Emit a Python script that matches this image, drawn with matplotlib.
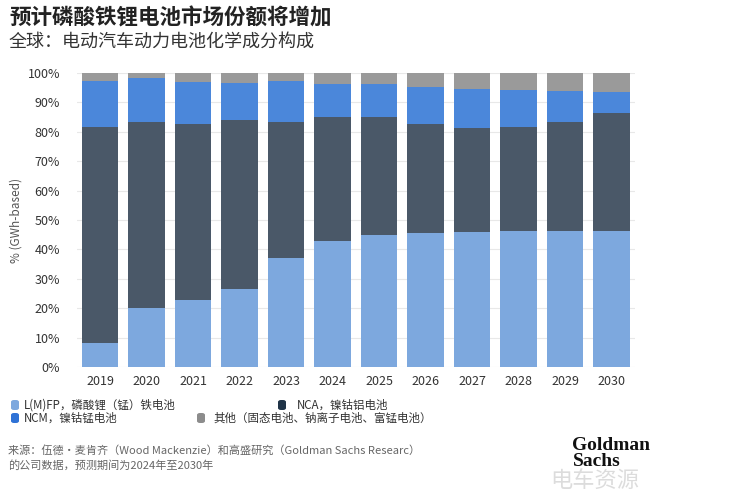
import matplotlib
matplotlib.use("Agg")
import matplotlib.pyplot as plt
from matplotlib.patches import FancyBboxPatch
import numpy as np

plt.rcParams['font.family'] = ['Noto Sans CJK SC', 'DejaVu Sans']

years = ["2019", "2020", "2021", "2022", "2023", "2024", "2025", "2026", "2027", "2028", "2029", "2030"]
lfp = [8.2, 20.1, 22.7, 26.6, 37.0, 43.0, 44.9, 45.5, 45.9, 46.3, 46.4, 46.3]
nca = [73.3, 63.2, 59.8, 57.3, 46.5, 42.2, 40.3, 37.0, 35.5, 35.5, 36.9, 40.1]
ncm = [15.7, 15.0, 14.4, 12.7, 13.7, 11.2, 11.2, 12.6, 13.3, 12.5, 10.7, 7.1]
other = [2.8, 1.7, 3.1, 3.4, 2.8, 3.6, 3.6, 4.9, 5.3, 5.7, 6.0, 6.5]

series_names = ["L(M)FP，磷酸锂（锰）铁电池", "NCA，镍钴铝电池", "NCM，镍钴锰电池", "其他（固态电池、钠离子电池、富锰电池）"]
c_lfp = "#7da8de"
c_nca = "#4a5868"
c_ncm = "#4b87da"
c_oth = "#9a9a9a"
legend_sq = {"lfp": "#7da8de", "nca": "#1f3347", "ncm": "#2f72d6", "oth": "#8c8c8c"}

fig = plt.figure(figsize=(7.31, 4.97), dpi=100)
ax = fig.add_axes([76.75/731, 1-367/497, (634.75-76.75)/731, (367-73)/497])

x = np.arange(len(years))
w = 0.79
b = np.zeros(len(years))
for vals, col in [(lfp, c_lfp), (nca, c_nca), (ncm, c_ncm), (other, c_oth)]:
    ax.bar(x, vals, w, bottom=b, color=col, linewidth=0, zorder=3)
    b = b + np.array(vals)

ax.set_xlim(-0.5, len(years) - 0.5)
ax.set_ylim(0, 100)
ax.set_yticks(np.arange(0, 101, 10))
ax.set_yticklabels([f"{v}%" for v in range(0, 101, 10)])
ax.set_xticks(x)
ax.set_xticklabels(years)
ax.tick_params(length=0, labelsize=9, colors="#333333", pad=6)
ax.tick_params(axis='y', pad=12)
for s in ax.spines.values():
    s.set_visible(False)
ax.grid(axis='y', color="#e8e8e8", linewidth=0.8, zorder=0)
ax.set_ylabel("% (GWh-based)", fontsize=8.5, color="#555555")
ax.yaxis.set_label_coords((23 - 76.75) / 558, 0.5)

# Titles
fig.text(9/731, 1-18/497, "预计磷酸铁锂电池市场份额将增加", fontsize=15.5, fontweight='bold', color="#222222", va='center', ha='left')
fig.text(9/731, 1-42/497, "全球：电动汽车动力电池化学成分构成", fontsize=13, color="#333333", va='center', ha='left')

# Legend
def sq(xp, yp, col):
    p = FancyBboxPatch(((xp)/731, 1-(yp+5)/497), 8/731, 10/497, boxstyle="round,pad=0,rounding_size=0.004",
                       transform=fig.transFigure, color=col, linewidth=0)
    fig.patches.append(p)

sq(11, 405, legend_sq["lfp"])
fig.text(24/731, 1-405/497, series_names[0], fontsize=8.3, color="#333333", va='center')
sq(278, 405, legend_sq["nca"])
fig.text(297/731, 1-405/497, series_names[1], fontsize=8.3, color="#333333", va='center')
sq(11, 418, legend_sq["ncm"])
fig.text(24/731, 1-418/497, series_names[2], fontsize=8.3, color="#333333", va='center')
sq(197, 418, legend_sq["oth"])
fig.text(213/731, 1-418/497, series_names[3], fontsize=8.3, color="#333333", va='center')

# Source
fig.text(8/731, 1-450/497, "来源：伍德·麦肯齐（Wood Mackenzie）和高盛研究（Goldman Sachs Researc）", fontsize=8.0, color="#666666", va='center')
fig.text(8/731, 1-465/497, "的公司数据，预测期间为2024年至2030年", fontsize=8.0, color="#666666", va='center')

# Watermark + logo
fig.text(595/731, 1-481/497, "电车资源", fontsize=16, color="#d4d4d4", va='center', ha='center', alpha=0.8, zorder=1)
fig.text(572/731, 1-445/497, "Goldman", fontsize=14, fontweight='bold', family='Liberation Serif', color="#111111", va='center', ha='left', zorder=2)
fig.text(573/731, 1-462/497, "Sachs", fontsize=14, fontweight='bold', family='Liberation Serif', color="#111111", va='center', ha='left', zorder=2)

fig.savefig("out.png", dpi=100)
